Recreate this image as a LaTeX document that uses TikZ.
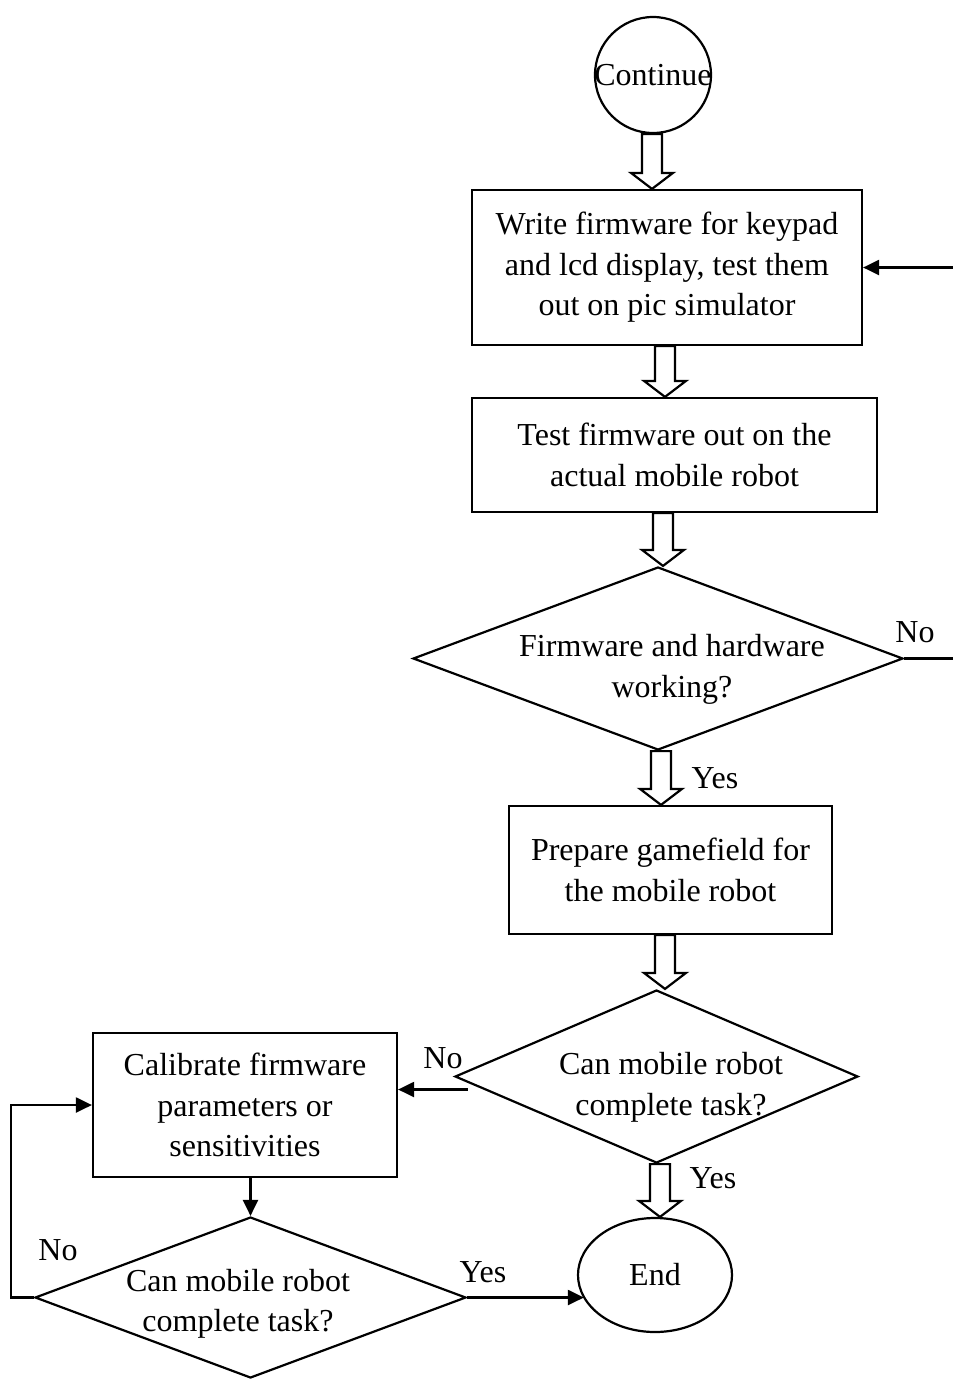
\documentclass[tikz,border=0pt]{standalone}
\usepackage{fontspec}
\setmainfont{Liberation Serif}
\usetikzlibrary{shapes.geometric,arrows.meta,calc}

% hollow block arrow: #1 = x position, #2 = source node, #3 = target node
\newcommand\hollowarrow[3]{%
  \draw[hollow] let \p1=(#2.south), \p2=(#3.north) in
    (#1pt-10pt,\y1) -- (#1pt-10pt,\y2+16pt) -- (#1pt-21pt,\y2+16pt) -- (#1pt,\y2)
    -- (#1pt+21pt,\y2+16pt) -- (#1pt+10pt,\y2+16pt) -- (#1pt+10pt,\y1) -- cycle;}

\begin{document}
\begin{tikzpicture}[x=1pt,y=-1pt,
  every node/.style={font=\fontsize{32}{40.5}\selectfont, inner sep=0pt, align=center},
  proc/.style={draw, line width=2.2pt, rectangle},
  dec/.style={draw, line width=2.2pt, diamond},
  term/.style={draw, line width=2.2pt, ellipse},
  arr/.style={line width=2.2pt, -{Triangle[length=16pt,width=15pt]}},
  hollow/.style={line width=2.2pt, line join=miter}
]
\useasboundingbox (0,0) rectangle (953,1379);

% start connector
\node[draw, circle, line width=2.2pt, minimum size=116pt] (cont) at (653,75) {};
\node (contt) at (653,75) {Continue};

% main column
\node[proc, minimum width=390pt, minimum height=155pt] (b1) at (667,267.5)
  {Write firmware for keypad\\and lcd display, test them\\out on pic simulator};
\node[proc, minimum width=405pt, minimum height=114pt] (b2) at (674.5,455)
  {Test firmware out on the\\actual mobile robot};
\node[dec, minimum width=490pt, minimum height=183pt] (d1) at (658,658.5) {};
\node (d1t) at (672,669.5) {Firmware and hardware\\working?};
\node[proc, minimum width=323pt, minimum height=128pt] (b3) at (670.5,870)
  {Prepare gamefield for\\the mobile robot};
\node[dec, minimum width=403pt, minimum height=173pt] (d2) at (656.5,1076.5) {};
\node (d2t) at (671,1087.5) {Can mobile robot\\complete task?};
\node[term, minimum width=154pt, minimum height=114pt] (e) at (655,1275) {End};

% calibration loop
\node[proc, minimum width=304pt, minimum height=144pt] (b4) at (245,1105)
  {Calibrate firmware\\parameters or\\sensitivities};
\node[dec, minimum width=431pt, minimum height=161pt] (d3) at (250.5,1297.5) {};
\node (d3t) at (238,1304) {Can mobile robot\\complete task?};

% block arrows down the main column
\hollowarrow{652}{cont}{b1}
\hollowarrow{665}{b1}{b2}
\hollowarrow{663}{b2}{d1}
\hollowarrow{661}{d1}{b3}
\hollowarrow{665}{b3}{d2}
\hollowarrow{660}{d2}{e}

% line connectors
\draw[arr] (d1.east) -- ++(52,0) |- (b1.east);
\coordinate (d2no) at ($(d2.west)+(14,13)$);
\draw[arr] (d2no) -- (d2no -| b4.east);
\draw[arr] (d3.north |- b4.south) -- (d3.north);
\draw[arr] (d3.west) -- ++(-23,0) |- (b4.west);
\draw[arr] (d3.east) -- ($(d3.east -| e.west)+(7,0)$);

% branch labels
\node (no1) at (915,632) {No};
\node (yes1) at (715,778) {Yes};
\node (no2) at (443,1058) {No};
\node (yes2) at (713,1178) {Yes};
\node (no3) at (58,1250) {No};
\node (yes3) at (483,1272) {Yes};
\end{tikzpicture}
\end{document}
